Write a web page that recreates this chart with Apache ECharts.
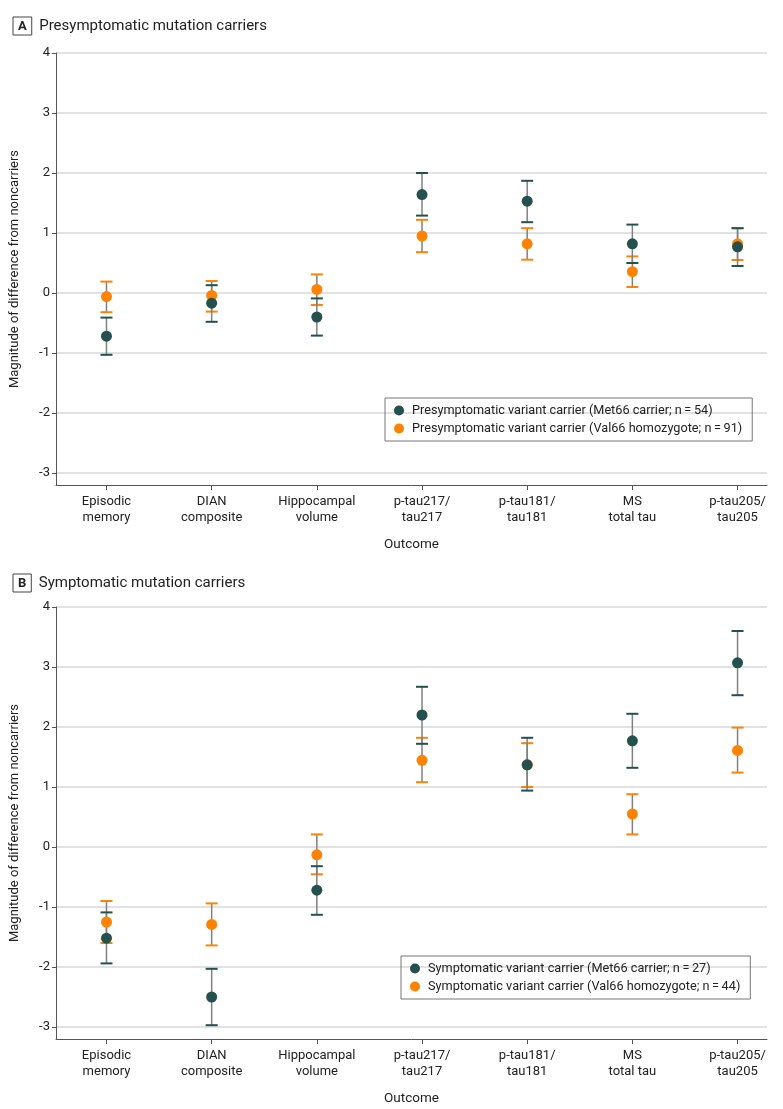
<!DOCTYPE html>
<html>
<head>
<meta charset="utf-8">
<title>Magnitude of difference from noncarriers</title>
<script src="https://cdn.jsdelivr.net/npm/echarts@6/dist/echarts.min.js"></script>
<style>
    html, body { margin: 0; padding: 0; background: #fff; }
    #main { width: 783px; height: 1109px; }
</style>
</head>
<body>
<div id="main"></div>
<script>
    // outcomes on the x axis
    var outcomes = ['Episodic\nmemory', 'DIAN\ncomposite', 'Hippocampal\nvolume', 'p-tau217/\ntau217',
        'p-tau181/\ntau181', 'MS\ntotal tau', 'p-tau205/\ntau205'];
    var yTicks = [-3, -2, -1, 0, 1, 2, 3, 4];

    // A: presymptomatic, Met66 carriers
    var presMet = [-0.72, -0.17, -0.40, 1.64, 1.53, 0.82, 0.77];
    var presMetLo = [-1.03, -0.48, -0.71, 1.29, 1.18, 0.50, 0.45];
    var presMetHi = [-0.41, 0.13, -0.09, 2.00, 1.87, 1.14, 1.08];
    // A: presymptomatic, Val66 homozygotes
    var presVal = [-0.06, -0.04, 0.06, 0.95, 0.82, 0.355, 0.82];
    var presValLo = [-0.32, -0.31, -0.20, 0.68, 0.555, 0.10, 0.55];
    var presValHi = [0.19, 0.20, 0.31, 1.22, 1.08, 0.61, 1.08];

    // B: symptomatic, Met66 carriers
    var symMet = [-1.52, -2.50, -0.72, 2.20, 1.37, 1.77, 3.07];
    var symMetLo = [-1.94, -2.97, -1.13, 1.72, 0.94, 1.32, 2.53];
    var symMetHi = [-1.09, -2.03, -0.32, 2.67, 1.82, 2.22, 3.60];
    // B: symptomatic, Val66 homozygotes
    var symVal = [-1.25, -1.29, -0.13, 1.445, 1.37, 0.55, 1.61];
    var symValLo = [-1.60, -1.64, -0.455, 1.08, 1.00, 0.21, 1.24];
    var symValHi = [-0.90, -0.94, 0.21, 1.82, 1.73, 0.88, 1.99];

    var DARK = '#24504e';
    var ORANGE = '#ff8300';
    var FONT = 'Roboto, "Liberation Sans", sans-serif';

    function pts(vals) {
        return vals.map(function (v, i) { return [i, v]; });
    }
    function bars(lo, hi) {
        return lo.map(function (v, i) { return [i, v, hi[i]]; });
    }
    function errRender(color) {
        return function (params, api) {
            var x = api.value(0);
            var lo = api.coord([x, api.value(1)]);
            var hi = api.coord([x, api.value(2)]);
            var w = 6;
            return {
                type: 'group',
                children: [
                    { type: 'line', shape: { x1: lo[0], y1: lo[1], x2: hi[0], y2: hi[1] },
                      style: { stroke: '#808080', lineWidth: 1.5 } },
                    { type: 'line', shape: { x1: hi[0] - w, y1: hi[1], x2: hi[0] + w, y2: hi[1] },
                      style: { stroke: color, lineWidth: 2 } },
                    { type: 'line', shape: { x1: lo[0] - w, y1: lo[1], x2: lo[0] + w, y2: lo[1] },
                      style: { stroke: color, lineWidth: 2 } }
                ]
            };
        };
    }

    function xAxisFor(idx) {
        return {
            type: 'value', gridIndex: idx, min: -0.48, max: 6.28,
            name: 'Outcome', nameLocation: 'middle', nameGap: 53,
            nameTextStyle: { color: '#222', fontSize: 13.5, fontFamily: FONT },
            axisLine: { show: true, onZero: false, lineStyle: { color: '#555', width: 1 } },
            axisTick: { show: true, length: 5, customValues: [0, 1, 2, 3, 4, 5, 6], lineStyle: { color: '#555' } },
            axisLabel: {
                customValues: [0, 1, 2, 3, 4, 5, 6],
                margin: 9, color: '#222', fontSize: 13, lineHeight: 16, fontFamily: FONT,
                formatter: function (v) { return outcomes[Math.round(v)]; }
            },
            splitLine: { show: false }
        };
    }
    function yAxisFor(idx) {
        return {
            type: 'value', gridIndex: idx, min: -3.2, max: 4, splitNumber: 7,
            name: 'Magnitude of difference from noncarriers', nameLocation: 'middle', nameGap: 35,
            nameTextStyle: { color: '#222', fontSize: 13, fontFamily: FONT },
            axisLine: { show: true, onZero: false, lineStyle: { color: '#555', width: 1 } },
            axisTick: { show: true, length: 4, customValues: yTicks, lineStyle: { color: '#555' } },
            axisLabel: {
                customValues: yTicks,
                margin: 6, color: '#222', fontSize: 13, fontFamily: FONT
            },
            splitLine: { show: true, lineStyle: { color: '#d9d9d9', width: 1.5 } }
        };
    }

    var nameA1 = 'Presymptomatic variant carrier (Met66 carrier; n\u2009=\u200954)';
    var nameA2 = 'Presymptomatic variant carrier (Val66 homozygote; n\u2009=\u200991)';
    var nameB1 = 'Symptomatic variant carrier (Met66 carrier; n\u2009=\u200927)';
    var nameB2 = 'Symptomatic variant carrier (Val66 homozygote; n\u2009=\u200944)';

    function panelSeries(idx, n1, n2, met, metLo, metHi, val, valLo, valHi) {
        return [
            { type: 'custom', name: n2 + ' CI', xAxisIndex: idx, yAxisIndex: idx, z: 2,
              renderItem: errRender(ORANGE), data: bars(valLo, valHi), silent: true },
            { type: 'custom', name: n1 + ' CI', xAxisIndex: idx, yAxisIndex: idx, z: 3,
              renderItem: errRender(DARK), data: bars(metLo, metHi), silent: true },
            { type: 'scatter', name: n2, xAxisIndex: idx, yAxisIndex: idx, z: 4,
              symbolSize: 11, itemStyle: { color: ORANGE, opacity: 1 }, data: pts(val) },
            { type: 'scatter', name: n1, xAxisIndex: idx, yAxisIndex: idx, z: 5,
              symbolSize: 11, itemStyle: { color: DARK, opacity: 1 }, data: pts(met) }
        ];
    }

    function legendFor(names, left, top) {
        return {
            data: names, left: left, top: top, orient: 'vertical', icon: 'circle',
            itemWidth: 10, itemHeight: 10, itemGap: 5,
            padding: [6, 10, 6, 9],
            borderColor: '#777', borderWidth: 1,
            selectedMode: false,
            textStyle: { color: '#222', fontSize: 12.7, fontFamily: FONT, padding: [0, 0, 0, 3] }
        };
    }

    function titleFor(letter, text, top) {
        return {
            text: '{b|' + letter + '}  ' + text, left: 8, top: top,
            textStyle: {
                fontSize: 15, fontWeight: 'normal', color: '#222', fontFamily: FONT,
                rich: {
                    b: { fontSize: 13, fontWeight: 'bold', color: '#222', fontFamily: FONT,
                         borderColor: '#444', borderWidth: 1, padding: [3, 5, 2, 5] }
                }
            }
        };
    }

    var chart = echarts.init(document.getElementById('main'), null, { renderer: 'canvas' });
    chart.setOption({
        animation: false,
        backgroundColor: '#fff',
        title: [
            titleFor('A', 'Presymptomatic mutation carriers', 12),
            titleFor('B', 'Symptomatic mutation carriers', 569)
        ],
        legend: [
            legendFor([nameA1, nameA2], 385, 398),
            legendFor([nameB1, nameB2], 401, 956)
        ],
        grid: [
            { left: 53, right: 16, top: 53, height: 432 },
            { left: 53, right: 16, top: 607, height: 432 }
        ],
        xAxis: [xAxisFor(0), xAxisFor(1)],
        yAxis: [yAxisFor(0), yAxisFor(1)],
        series: panelSeries(0, nameA1, nameA2, presMet, presMetLo, presMetHi, presVal, presValLo, presValHi)
            .concat(panelSeries(1, nameB1, nameB2, symMet, symMetLo, symMetHi, symVal, symValLo, symValHi))
    });
</script>
</body>
</html>
